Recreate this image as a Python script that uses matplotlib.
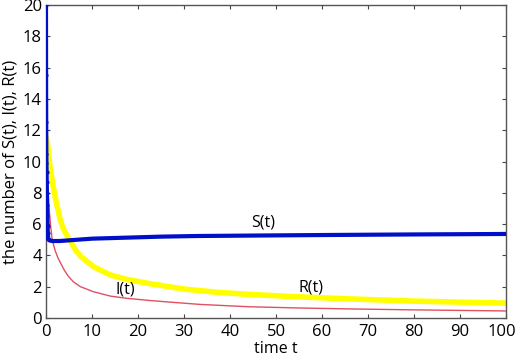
import matplotlib
matplotlib.use("Agg")
import matplotlib.pyplot as plt
import matplotlib.transforms as mtransforms

plt.rcParams['font.family'] = ['Open Sans', 'DejaVu Sans']

# S(t)
t_S = [0, 0.02, 0.05, 0.08, 0.1, 0.13, 0.16, 0.2, 0.25, 0.3, 0.35, 0.4, 0.5, 0.8, 1.5, 3, 10, 25, 33, 50, 64, 80, 100]
S = [20, 15.5, 12.5, 10.5, 9.9, 9.3, 8.7, 8.0, 7.2, 6.5, 5.9, 5.4, 5.05, 4.95, 4.92, 4.92, 5.07, 5.2, 5.24, 5.28, 5.31, 5.34, 5.37]
# I(t)
t_I = [0, 0.05, 0.3, 0.6, 1.0, 1.35, 2, 2.6, 3.1, 4, 4.9, 6, 7.5, 10.3, 14, 17.5, 22.5, 25, 33.4, 44, 55, 66, 80, 100]
I = [15.3, 12.7, 9.0, 7.3, 5.9, 5.0, 4.3, 3.85, 3.55, 3.05, 2.65, 2.3, 2.0, 1.68, 1.4, 1.26, 1.12, 1.06, 0.87, 0.72, 0.64, 0.58, 0.52, 0.45]
# R(t)
t_R = [0, 0.3, 0.9, 1.5, 2.3, 3.0, 3.7, 4.5, 5.2, 6.3, 7.5, 10.3, 14, 17.5, 22.5, 30, 37, 44, 55, 66, 80, 100]
R = [11.6, 11.2, 9.6, 8.5, 7.3, 6.4, 5.75, 5.3, 4.95, 4.4, 3.95, 3.28, 2.75, 2.47, 2.2, 1.85, 1.65, 1.51, 1.35, 1.22, 1.08, 0.95]

xticks = [0, 10, 20, 30, 40, 50, 60, 70, 80, 90, 100]
yticks = [0, 2, 4, 6, 8, 10, 12, 14, 16, 18, 20]

fig = plt.figure(figsize=(5.19, 3.59), dpi=100)
ax = fig.add_axes([0.0886, 0.1142, 0.975 - 0.0886, 0.986 - 0.1142])

ax.plot(t_R, R, color='#ffff00', lw=4, solid_capstyle='butt', zorder=2)
ax.plot(t_I, I, color='#e05060', lw=1.0, zorder=3)
ax.plot(t_S, S, color='#0010c8', lw=3, zorder=4)
ax.plot(t_S[:13], S[:13], ls='none', marker='.', ms=4, color='#0010c8', zorder=5)

ax.text(47.2, 6.1, 'S(t)', fontsize=11.5, ha='center', va='center')
ax.text(17.2, 1.8, 'I(t)', fontsize=11.5, ha='center', va='center')
ax.text(57.6, 1.94, 'R(t)', fontsize=11.5, ha='center', va='center')

ax.set_xlim(0, 100)
ax.set_ylim(0, 20)
ax.set_xticks(xticks)
ax.set_yticks(yticks)
ax.tick_params(direction='in', top=True, right=True, length=3, labelsize=12,
               colors='#444444', labelcolor='black')
ax.tick_params(axis='x', pad=4)
ax.tick_params(axis='y', pad=3)
for sp in ax.spines.values():
    sp.set_color('#555555')
    sp.set_linewidth(1.0)
ax.set_xlabel('time t', fontsize=11.5, labelpad=1)
ax.set_ylabel('the number of S(t), I(t), R(t)', fontsize=12, labelpad=3)

fig.canvas.draw()
lab = ax.get_xticklabels()[-1]
lab.set_transform(lab.get_transform() + mtransforms.ScaledTranslation(-4/100, 0, fig.dpi_scale_trans))

fig.savefig('out.png', dpi=100)
